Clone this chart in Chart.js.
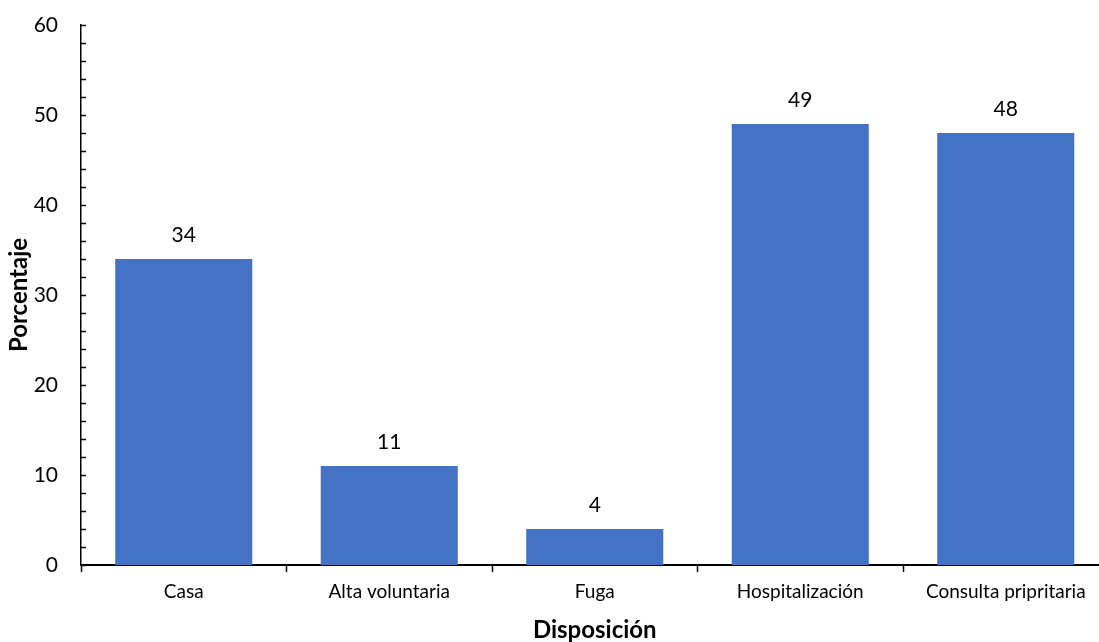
<!DOCTYPE html>
<html lang="es">
<head>
<meta charset="utf-8">
<title>Disposición</title>
<script src="https://cdn.jsdelivr.net/npm/chart.js@4.4.1/dist/chart.umd.min.js"></script>
<style>
  html, body { margin: 0; padding: 0; background: #fff; overflow: hidden; }
  #wrap { width: 1110px; height: 642px; }
</style>
</head>
<body>
<div id="wrap"><canvas id="chart" width="1110" height="642"></canvas></div>
<script>
// Disposición de los pacientes (%)
const categories = ['Casa', 'Alta voluntaria', 'Fuga', 'Hospitalización', 'Consulta pripritaria'];
const porcentaje = [34, 11, 4, 49, 48];
const yMin = 0;
const yMax = 60;
const yMajorStep = 10;
const yMinorStep = 2;

const FONT = 'Lato, "Open Sans", sans-serif';
const BAR_COLOR = '#4472C4';

// Inner tick marks along the value axis (major and minor)
const innerTicks = {
  id: 'innerTicks',
  afterDraw(chart) {
    const y = chart.scales.y;
    const ctx = chart.ctx;
    ctx.save();
    ctx.strokeStyle = '#000';
    ctx.lineWidth = 1.3;
    ctx.beginPath();
    for (let v = yMin; v <= yMax; v += yMinorStep) {
      const py = Math.round(y.getPixelForValue(v)) + 0.5;
      ctx.moveTo(y.right, py);
      ctx.lineTo(y.right + 5, py);
    }
    ctx.stroke();
    ctx.restore();
  }
};

// Value labels above each bar
const valueLabels = {
  id: 'valueLabels',
  afterDatasetsDraw(chart) {
    const ctx = chart.ctx;
    const meta = chart.getDatasetMeta(0);
    ctx.save();
    ctx.fillStyle = '#000';
    ctx.font = '21px ' + FONT;
    ctx.textAlign = 'center';
    ctx.textBaseline = 'alphabetic';
    meta.data.forEach((bar, i) => {
      ctx.fillText(String(porcentaje[i]), bar.x, bar.y - 17);
    });
    ctx.restore();
  }
};

new Chart(document.getElementById('chart'), {
  type: 'bar',
  data: {
    labels: categories,
    datasets: [{
      data: porcentaje,
      backgroundColor: BAR_COLOR,
      borderWidth: 0,
      categoryPercentage: 1.0,
      barPercentage: 0.667
    }]
  },
  options: {
    responsive: false,
    animation: false,
    layout: { padding: { top: 25, right: 1.5, bottom: 0, left: 0 } },
    plugins: {
      legend: { display: false },
      tooltip: { enabled: false }
    },
    scales: {
      x: {
        afterFit(scale) {
          scale.height = 77;
          scale.paddingLeft = 0;
          scale.paddingRight = 0;
        },
        grid: {
          display: true,
          drawOnChartArea: false,
          drawTicks: true,
          tickLength: 7,
          tickWidth: 1.5,
          tickColor: '#000',
          offset: true
        },
        border: { display: true, color: '#000', width: 2 },
        ticks: {
          color: '#000',
          font: { family: FONT, size: 19 },
          padding: 8,
          maxRotation: 0,
          autoSkip: false
        },
        title: {
          display: true,
          text: 'Disposición',
          color: '#000',
          font: { family: FONT, size: 24, weight: 'bold', lineHeight: 1 },
          padding: { top: 0, bottom: 0 }
        }
      },
      y: {
        min: yMin,
        max: yMax,
        afterFit(scale) {
          scale.width = 81;
          scale.paddingTop = 0;
          scale.paddingBottom = 0;
        },
        grid: { display: false, drawTicks: false },
        border: { display: true, color: '#000', width: 1.5 },
        ticks: {
          stepSize: yMajorStep,
          color: '#000',
          font: { family: FONT, size: 21 },
          padding: 23
        },
        title: {
          display: true,
          text: 'Porcentaje',
          color: '#000',
          font: { family: FONT, size: 24, weight: 'bold', lineHeight: 1.2 },
          padding: { top: 5, bottom: 0 }
        }
      }
    }
  },
  plugins: [innerTicks, valueLabels]
});
</script>
</body>
</html>
